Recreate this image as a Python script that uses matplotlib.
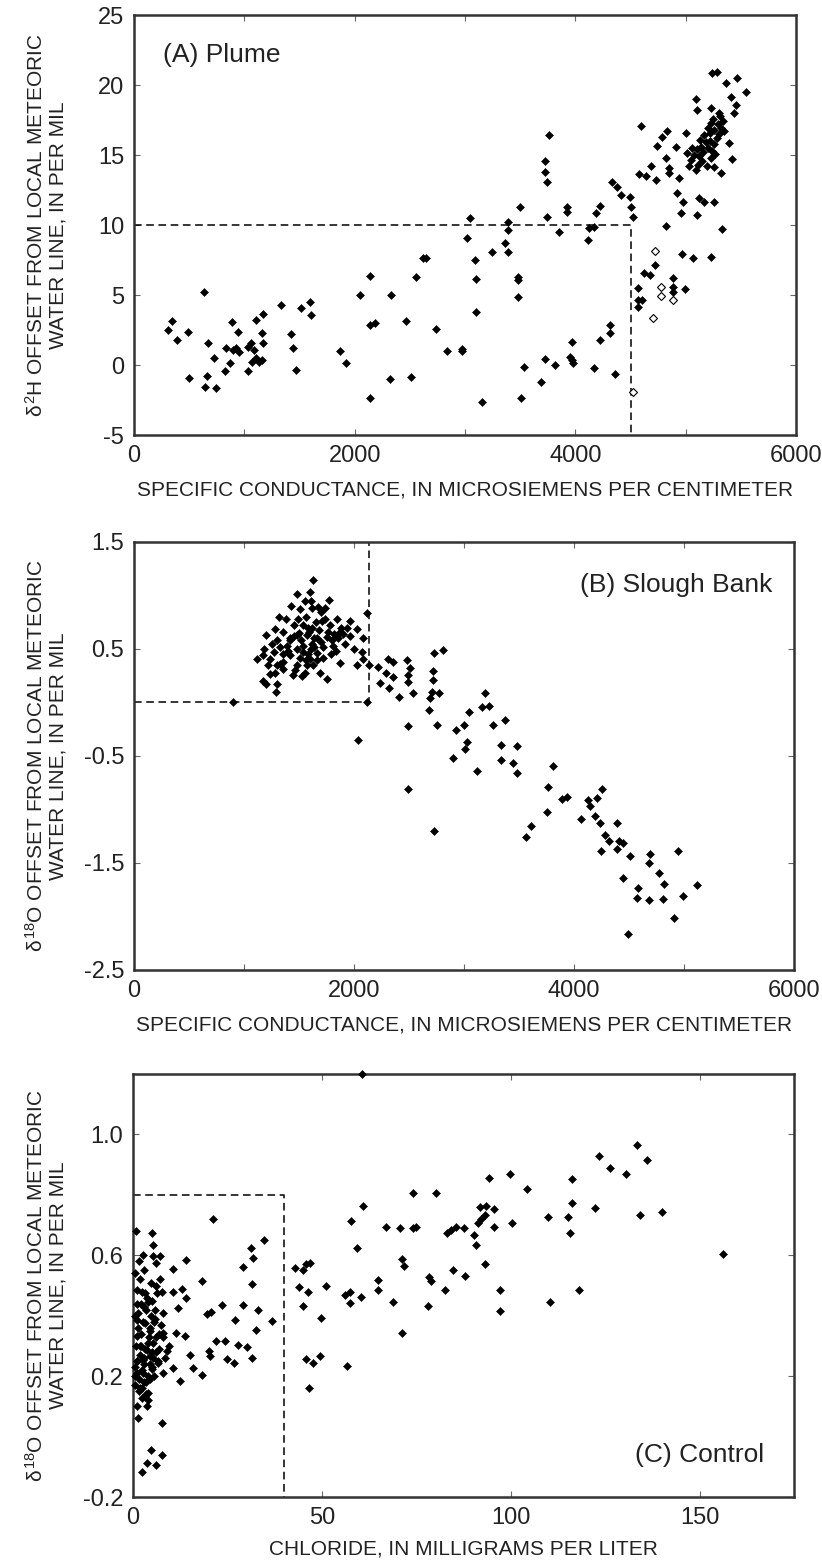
import matplotlib
matplotlib.use("Agg")
import matplotlib.pyplot as plt
from matplotlib.ticker import MultipleLocator, FixedLocator, FormatStrFormatter

plt.rcParams['font.family'] = ['Liberation Sans', 'DejaVu Sans']
plt.rcParams['mathtext.fontset'] = 'custom'
plt.rcParams['mathtext.rm'] = 'Liberation Sans'
plt.rcParams['mathtext.it'] = 'Liberation Sans'
plt.rcParams['axes.unicode_minus'] = False

# ---- (A) Plume: specific conductance vs d2H offset ----
plume_sc = [312, 348, 394, 485, 494, 636, 667, 658, 639, 727, 745, 824, 885, 873, 939,
            833, 894, 924, 955, 1030, 1061, 1091, 1167, 1030, 1067, 1106, 1161, 1136, 1106,
            1167, 1161, 1333, 1424, 1442, 1470, 1515, 1591, 1600,
            1863, 1918, 2045, 2136, 2136, 2182, 2136, 2327, 2324, 2463, 2515, 2554, 2621,
            2650, 2736, 2833, 2970, 2976, 3151, 3015, 3045, 3091, 3097, 3097, 3242, 3364,
            3388, 3388, 3394, 3494, 3479, 3479, 3479, 3539, 3506, 3727, 3688, 3742, 3727,
            3727, 3742, 3758,
            3848, 3924, 3924, 3969, 3954, 3969, 3979, 3818, 4115, 4121, 4166, 4191, 4227,
            4173, 4227, 4312, 4312, 4363, 4333, 4379, 4418, 4494, 4500, 4524, 4597, 4569,
            4569, 4606, 4569, 4621, 4676, 4718, 4888, 4888, 4888, 4994, 4969, 5069, 5227,
            4824, 4576, 4636, 4682, 4727, 4736, 4788, 4833, 4818, 4848, 4848, 4909, 4924,
            4939, 4978, 4954, 4999, 5015, 5045, 5090, 5106, 5121, 5166, 5106, 5257, 5257,
            5318, 5333, 5424,
            5080, 5100, 5120, 5140, 5160, 5180, 5200, 5220, 5240, 5260, 5110, 5150, 5190,
            5230, 5270, 5060, 5130, 5170, 5090, 5030,
            5200, 5230, 5260, 5290, 5320, 5340, 5250, 5300, 5220, 5280, 5350, 5310,
            5242, 5288, 5363, 5469, 5409, 5545, 5454, 5439, 5394, 5227, 5303]
plume_dh = [2.5, 3.17, 1.79, 2.38, -0.95, 5.19, 1.6, -0.79, -1.55, 0.52, -1.67, -0.43, 3.05,
            0.12, 2.38, 1.19, 1.07, 1.19, 0.95, 1.31, 1.55, 1.07, 1.55, -0.43, 0.24, 0.48,
            0.36, 0.24, 3.21, 3.64, 2.26, 4.29, 2.19, 1.24, -0.36, 4.05, 4.5, 3.57,
            1.0, 0.12, 5.0, 6.36, 2.86, 3.02, -2.33, 4.98, -1.02, 3.17, -0.83, 6.26, 7.67,
            7.67, 2.55, 1.0, 1.14, 1.0, -2.62, 9.05, 10.48, 7.5, 6.12, 3.79, 8.05, 8.74,
            8.05, 9.64, 10.24, 11.31, 6.31, 6.07, 4.88, -0.17, -2.33, 0.4, -1.19, 10.6, 14.6,
            13.8, 13.1, 16.4,
            9.52, 11.31, 10.95, 1.67, 0.6, 0.36, 0.12, 0.0, 8.93, 9.76, 9.88, 10.83, 11.36,
            -0.19, 1.79, 2.86, 2.31, -0.64, 13.1, 12.74, 12.14, 12.02, 11.31, 10.6, 17.07,
            5.48, 4.64, 4.64, 4.17, 6.6, 6.43, 7.14, 5.55, 6.19, 5.24, 5.4, 7.9, 7.67, 7.74,
            9.95, 13.64, 13.52, 14.24, 13.21, 15.67, 16.31, 16.71, 14.76, 14.05, 13.69, 15.6,
            12.26, 13.33, 11.67, 10.83, 16.55, 15.12, 14.64, 19.0, 18.2, 11.9, 11.67, 10.7,
            11.67, 14.17, 13.69, 9.69, 14.69,
            15.0, 15.4, 14.9, 15.6, 15.2, 15.9, 15.5, 16.0, 15.3, 15.8, 14.3, 14.6, 14.2,
            14.8, 15.1, 15.5, 16.1, 16.4, 13.9, 14.2,
            16.9, 17.3, 16.8, 17.2, 16.9, 17.4, 17.6, 16.5, 16.6, 16.2, 16.7, 17.8,
            20.83, 20.95, 20.17, 20.48, 19.17, 19.52, 18.57, 17.98, 15.83, 18.33, 17.98]
plume_open_sc = [4718, 4703, 4779, 4779, 4888, 4521]
plume_open_dh = [8.14, 3.38, 5.55, 4.93, 4.64, -1.9]
plume_ref = (4500, 10)

# ---- (B) Slough Bank: specific conductance vs d18O offset ----
slough_sc = [1630, 1479, 1600, 1609, 1676, 1776, 1736, 2121, 1321, 1509, 1494, 1539, 1615,
             1706, 1782, 1842, 1964, 2024, 1200, 1282, 1357, 1418, 1479, 1570, 1661, 1751,
             1857, 1903, 2085, 1115, 1176, 1236, 1297, 1357, 1418, 1479, 1539, 1600, 1661,
             1721, 1812, 1873, 2024, 2070, 2085, 2139, 1539, 1615, 1388, 1176, 1200, 1282,
             1297, 1291, 1357, 1442, 1554, 1624, 1691, 1758, 1570, 1479, 1236, 1221,
             1250, 1330, 1400, 1450, 1520, 1560, 1590, 1640, 1680, 1720, 1760, 1800, 1840,
             1880, 1920, 1960, 2000, 1350, 1460, 1530, 1580, 1650, 1700, 1430, 1380, 1300,
             1180, 1550, 1620, 1740,
             1270, 1420, 1510, 1610, 1700, 1790, 1870, 1330, 1450, 1580, 1660, 1820, 1940,
             1500, 1640, 1560,
             897, 2121, 2033,
             2221, 2312, 2357, 2291, 2357, 2236, 2321, 2412, 2479, 2509, 2494, 2494, 2539,
             2494, 2488, 2727, 2806, 2721, 2715, 2709, 2770, 2691, 2682, 2751, 2730,
             2903, 2927, 3003, 3048, 3024, 3009, 3115, 3167, 3191, 3227, 3264, 3333, 3339,
             3370, 3479, 3442, 3485,
             3806, 3766, 3751, 3609, 3563, 3888, 3933, 4063, 4124, 4145, 4206, 4251, 4191,
             4236, 4281, 4321, 4412, 4442, 4394, 4245, 4388, 4509, 4691, 4684, 4948, 4775,
             4442, 4579, 4821, 5115, 4569, 4684, 4812, 4987, 4912, 4494]
slough_do = [1.145, 1.014, 1.036, 0.944, 0.897, 0.96, 0.88, 0.84, 0.80, 0.87, 0.78, 0.72,
             0.70, 0.76, 0.72, 0.78, 0.76, 0.69, 0.63, 0.69, 0.66, 0.60, 0.63, 0.63, 0.60,
             0.61, 0.60, 0.64, 0.60, 0.41, 0.44, 0.41, 0.35, 0.38, 0.44, 0.50, 0.47, 0.41,
             0.46, 0.52, 0.53, 0.37, 0.35, 0.47, 0.41, 0.35, 0.53, 0.55, 0.53, 0.20, 0.17,
             0.28, 0.17, 0.10, 0.31, 0.26, 0.28, 0.35, 0.28, 0.22, 0.35, 0.35, 0.27, 0.35,
             0.55, 0.52, 0.48, 0.72, 0.58, 0.80, 0.66, 0.52, 0.68, 0.42, 0.66, 0.58, 0.48,
             0.70, 0.55, 0.62, 0.50, 0.45, 0.30, 0.25, 0.45, 0.75, 0.85, 0.90, 0.78, 0.58,
             0.50, 0.95, 0.88, 0.78,
             0.47, 0.58, 0.42, 0.50, 0.57, 0.45, 0.66, 0.36, 0.62, 0.70, 0.40, 0.64, 0.70,
             0.65, 0.60, 0.40,
             0.0, 0.0, -0.35,
             0.33, 0.41, 0.38, 0.28, 0.24, 0.18, 0.14, 0.05, 0.40, 0.32, 0.26, 0.19, 0.09,
             -0.22, -0.81, 0.46, 0.49, 0.29, 0.21, 0.10, 0.09, 0.04, -0.07, -0.21, -1.2,
             -0.52, -0.26, -0.21, -0.09, -0.37, -0.43, -0.64, -0.04, 0.09, -0.03, -0.21,
             -0.40, -0.54, -0.16, -0.41, -0.57, -0.66,
             -0.59, -0.79, -1.02, -1.15, -1.26, -0.90, -0.88, -1.09, -0.91, -0.97, -0.89,
             -0.81, -1.06, -1.13, -1.24, -1.29, -1.29, -1.31, -1.13, -1.39, -1.37, -1.43,
             -1.42, -1.5, -1.39, -1.59, -1.64, -1.73, -1.70, -1.71, -1.83, -1.85, -1.84,
             -1.81, -2.01, -2.16]
slough_ref = (2140, 0.0)

# ---- (C) Control: chloride vs d18O offset ----
control_cl = [21.1, 0.8, 4.9, 2.7, 5.2, 5.4, 7.1, 6.1, 10.5, 14.0, 0.5, 1.9, 4.7, 7.1, 1.0,
              3.2, 6.3, 7.8, 10.5, 12.9, 14.0, 18.2, 1.0, 4.1, 5.8, 8.0, 12.0, 19.5, 20.6,
              23.5, 29.2, 33.2, 27.0, 36.7, 32.5, 31.2, 31.8, 29.0, 34.7, 31.4,
              1.0, 3.2, 4.5, 8.0, 11.5, 13.8, 1.0, 1.9, 3.6, 5.4, 2.7, 4.5, 6.7, 8.9, 1.0,
              0.5, 2.7, 4.9, 8.0, 10.7, 12.4, 15.1, 15.8, 18.2, 20.0, 20.4, 22.0, 24.3, 24.8,
              26.7, 27.9, 30.2, 31.4, 1.9, 4.1, 2.3, 1.0, 3.6, 1.4, 7.6, 4.7, 3.6, 6.1, 7.6,
              2.3,
              1.5, 2.5, 3.5, 1.2, 2.0, 3.0, 4.0, 5.0, 6.0, 7.0, 2.5, 3.5, 5.5, 6.5, 1.5, 4.5,
              8.5, 9.5, 2.0, 5.0, 6.0, 3.0, 1.0, 7.5, 4.0, 0.5,
              0.6, 1.7, 2.8, 3.9, 5.1, 6.2, 0.9, 2.1, 3.3, 4.4, 5.6, 6.8, 1.3, 2.6, 3.7, 4.8,
              0.4, 1.8, 3.0, 4.2, 5.3, 7.9, 1.1, 2.4, 3.4, 4.6, 5.7, 2.9,
              42.9, 45.1, 45.9, 46.8, 43.9, 46.4, 44.9, 51.0, 49.7, 45.7, 47.7, 49.6, 46.6,
              56.7, 57.6, 60.9, 59.2, 56.1, 57.4, 57.4, 60.3, 64.9, 64.9, 68.9, 67.1, 70.8,
              74.0, 74.0, 74.9, 71.3, 71.8, 71.1, 80.2, 78.4, 79.0, 78.1, 82.5, 84.6, 83.0,
              84.3, 85.5, 60.6,
              87.8, 93.1, 97.2, 97.1, 110.3, 118.1, 87.6, 90.3, 90.7, 91.3, 92.2, 93.1, 92.0,
              93.5, 95.6, 95.6, 94.2, 99.7, 100.4, 104.3, 109.8, 115.1, 115.6, 116.3, 116.3,
              122.2, 123.3, 126.3, 130.6, 133.5, 136.1, 134.1, 140.0, 156.3]
control_do = [0.72, 0.68, 0.675, 0.60, 0.635, 0.596, 0.596, 0.574, 0.554, 0.583, 0.54,
              0.52, 0.508, 0.52, 0.486, 0.475, 0.475, 0.48, 0.477, 0.49, 0.46, 0.516, 0.44,
              0.447, 0.42, 0.41, 0.425, 0.407, 0.412, 0.434, 0.436, 0.42, 0.387, 0.381,
              0.354, 0.624, 0.59, 0.56, 0.65, 0.506,
              0.387, 0.376, 0.36, 0.343, 0.343, 0.332, 0.332, 0.30, 0.288, 0.31, 0.255,
              0.266, 0.244, 0.282, 0.249, 0.2, 0.21, 0.222, 0.21, 0.227, 0.183, 0.271,
              0.227, 0.205, 0.282, 0.266, 0.315, 0.317, 0.257, 0.244, 0.304, 0.296, 0.26,
              0.161, 0.144, 0.128, 0.10, 0.10, 0.062, 0.045, -0.043, -0.087, -0.093, -0.06,
              -0.118,
              0.58, 0.48, 0.42, 0.36, 0.30, 0.26, 0.31, 0.28, 0.33, 0.29, 0.22, 0.18, 0.20,
              0.25, 0.15, 0.24, 0.26, 0.30, 0.44, 0.45, 0.50, 0.55, 0.25, 0.37, 0.12, 0.40,
              0.23, 0.19, 0.24, 0.20, 0.23, 0.28, 0.30, 0.34, 0.29, 0.35, 0.38, 0.34, 0.41,
              0.38, 0.46, 0.40, 0.17, 0.27, 0.18, 0.33, 0.26, 0.33, 0.21, 0.16, 0.14, 0.19,
              0.39, 0.43]
control_do += [0.558, 0.552, 0.572, 0.574, 0.494, 0.48, 0.433, 0.499, 0.392, 0.257, 0.244,
               0.268, 0.161, 0.235, 0.713, 0.764, 0.624, 0.469, 0.48, 0.442, 0.462, 0.519,
               0.484, 0.447, 0.695, 0.69, 0.805, 0.69, 0.695, 0.588, 0.563, 0.343, 0.805,
               0.528, 0.516, 0.431, 0.486, 0.55, 0.673, 0.684, 0.695, 1.2,
               0.532, 0.572, 0.484, 0.414, 0.445, 0.484, 0.69, 0.668, 0.635, 0.706, 0.72,
               0.734, 0.761, 0.764, 0.754, 0.695, 0.857, 0.869, 0.706, 0.82, 0.726, 0.726,
               0.673, 0.772, 0.852, 0.756, 0.927, 0.888, 0.868, 0.965, 0.914, 0.734, 0.744,
               0.605]
control_ref = (40, 0.8)

W, H = 822, 1565
fig = plt.figure(figsize=(W / 100, H / 100), dpi=100)
TXT = '#222222'
FS = 17
LAB = 15
XLABEL_SC = 'SPECIFIC CONDUCTANCE, IN MICROSIEMENS PER CENTIMETER'


def make_axes(left, top, right, bottom):
    ax = fig.add_axes([left / W, 1 - bottom / H, (right - left) / W, (bottom - top) / H])
    for s in ax.spines.values():
        s.set_linewidth(1.8)
        s.set_color('#333333')
    ax.tick_params(which='both', direction='in', top=True, right=True, length=4,
                   width=0.8, color='#666666', labelsize=FS, labelcolor=TXT, pad=7)
    return ax


def dots(ax, x, y, open_=False):
    ax.plot(x, y, linestyle='none', marker='D', markersize=4.1,
            markerfacecolor='white' if open_ else 'black', markeredgecolor='black',
            markeredgewidth=0.8 if open_ else 0.4, clip_on=False, zorder=3)


def ylab(ax_top, ax_bot, line1, line2):
    yc = 1 - (ax_top + ax_bot) / 2 / H
    fig.text(36 / W, yc, line1, rotation=90, ha='center', va='center', fontsize=LAB, color=TXT)
    fig.text(58 / W, yc, line2, rotation=90, ha='center', va='center', fontsize=LAB, color=TXT)


def refbox(ax, xs, ys):
    ax.plot(xs, ys, color='black', linestyle='--', lw=1.1, dashes=(5, 3), zorder=2)


# (A)
axA = make_axes(134, 15, 796, 435)
refbox(axA, [0, plume_ref[0], plume_ref[0]], [plume_ref[1], plume_ref[1], -5])
dots(axA, plume_sc, plume_dh)
dots(axA, plume_open_sc, plume_open_dh, open_=True)
axA.set_xlim(0, 6000)
axA.set_ylim(-5, 25)
axA.xaxis.set_major_locator(MultipleLocator(2000))
axA.xaxis.set_minor_locator(MultipleLocator(1000))
axA.yaxis.set_major_locator(MultipleLocator(5))
axA.set_xlabel(XLABEL_SC, fontsize=LAB, color=TXT, labelpad=10)
axA.text(0.044, 0.905, '(A) Plume', transform=axA.transAxes, fontsize=19, color=TXT,
         ha='left', va='center')
ylab(15, 435, r'$\delta^{2}$H OFFSET FROM LOCAL METEORIC', 'WATER LINE, IN PER MIL')

# (B)
axB = make_axes(134, 542, 794, 970)
refbox(axB, [0, slough_ref[0], slough_ref[0]], [slough_ref[1], slough_ref[1], 1.5])
dots(axB, slough_sc, slough_do)
axB.set_xlim(0, 6000)
axB.set_ylim(-2.5, 1.5)
axB.xaxis.set_major_locator(MultipleLocator(2000))
axB.xaxis.set_minor_locator(MultipleLocator(1000))
axB.yaxis.set_major_locator(FixedLocator([-2.5, -1.5, -0.5, 0.5, 1.5]))
axB.set_xlabel(XLABEL_SC, fontsize=LAB, color=TXT, labelpad=10)
axB.text(0.967, 0.9, '(B) Slough Bank', transform=axB.transAxes, fontsize=19, color=TXT,
         ha='right', va='center')
ylab(542, 970, r'$\delta^{18}$O OFFSET FROM LOCAL METEORIC', 'WATER LINE, IN PER MIL')

# (C)
axC = make_axes(133, 1074, 794, 1497)
refbox(axC, [0, control_ref[0], control_ref[0]], [control_ref[1], control_ref[1], -0.2])
dots(axC, control_cl, control_do)
axC.set_xlim(0, 175)
axC.set_ylim(-0.2, 1.2)
axC.xaxis.set_major_locator(FixedLocator([0, 50, 100, 150]))
axC.yaxis.set_major_locator(FixedLocator([-0.2, 0.2, 0.6, 1.0]))
axC.yaxis.set_major_formatter(FormatStrFormatter('%.1f'))
axC.set_xlabel('CHLORIDE, IN MILLIGRAMS PER LITER', fontsize=LAB, color=TXT, labelpad=8)
axC.text(0.955, 0.1, '(C) Control', transform=axC.transAxes, fontsize=19, color=TXT,
         ha='right', va='center')
ylab(1074, 1497, r'$\delta^{18}$O OFFSET FROM LOCAL METEORIC', 'WATER LINE, IN PER MIL')

fig.savefig('out.png', dpi=100)
